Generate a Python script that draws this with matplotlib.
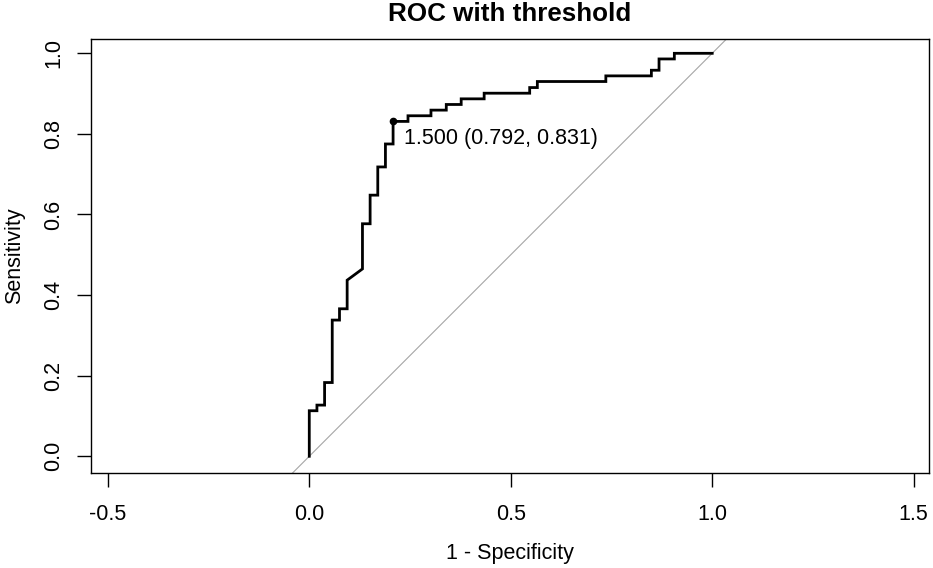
import matplotlib
matplotlib.use("Agg")
import matplotlib.pyplot as plt

plt.rcParams['font.family'] = ['Liberation Sans', 'DejaVu Sans']

# ROC curve points (1 - specificity, sensitivity)
one_minus_spec = [0.000, 0.000, 0.019, 0.019, 0.038, 0.038, 0.057, 0.057, 0.075, 0.075,
                  0.094, 0.094, 0.132, 0.132, 0.151, 0.151, 0.170, 0.170, 0.189, 0.189,
                  0.208, 0.208, 0.245, 0.245, 0.302, 0.302, 0.340, 0.340, 0.377, 0.377,
                  0.434, 0.434, 0.547, 0.547, 0.566, 0.566, 0.736, 0.736, 0.849, 0.849,
                  0.868, 0.868, 0.906, 0.906, 1.000]
sensitivity = [0.000, 0.113, 0.113, 0.127, 0.127, 0.183, 0.183, 0.338, 0.338, 0.366,
               0.366, 0.437, 0.465, 0.577, 0.577, 0.648, 0.648, 0.718, 0.718, 0.775,
               0.775, 0.831, 0.831, 0.845, 0.845, 0.859, 0.859, 0.873, 0.873, 0.887,
               0.887, 0.901, 0.901, 0.915, 0.915, 0.930, 0.930, 0.944, 0.944, 0.958,
               0.958, 0.986, 0.986, 1.000, 1.000]

thr_value = 1.500
thr_specificity = 0.792
thr_sensitivity = 0.831

x_ticks = [-0.5, 0.0, 0.5, 1.0, 1.5]
y_ticks = [0.0, 0.2, 0.4, 0.6, 0.8, 1.0]

W, H = 933, 568
fig = plt.figure(figsize=(W / 100, H / 100), dpi=100)
left, right, top, bottom = 91, 929, 39, 473
ax = fig.add_axes([left / W, 1 - bottom / H, (right - left) / W, (bottom - top) / H])

ax.set_xlim(-0.5417, 1.538)
ax.set_ylim(-0.0415, 1.0355)

# diagonal reference line
ax.axline((0, 0), (1, 1), color='#a6a6a6', lw=0.8, zorder=1)

ax.plot(one_minus_spec, sensitivity, color='black', lw=2.0, solid_joinstyle='miter', zorder=3)

tx = 1 - thr_specificity
ax.plot([tx], [thr_sensitivity], 'o', color='black', markersize=4.5, zorder=4)
ax.annotate(f"{thr_value:.3f} ({thr_specificity:.3f}, {thr_sensitivity:.3f})",
            xy=(tx, thr_sensitivity), xytext=(11, -17), textcoords='offset pixels',
            ha='left', va='center', fontsize=15.5, color='black')

ax.set_xticks(x_ticks)
ax.set_xticklabels([f"{v:.1f}" for v in x_ticks])
ax.set_yticks(y_ticks)
ax.set_yticklabels([f"{v:.1f}" for v in y_ticks], rotation=90, va='center')
ax.tick_params(axis='both', labelsize=15.5, length=10, width=1.0, colors='black')
ax.tick_params(axis='x', pad=12)
ax.tick_params(axis='y', pad=9)

for s in ax.spines.values():
    s.set_linewidth(1.0)
    s.set_color('black')

fig.text(510 / W, 1 - 21 / H, "ROC with threshold", ha='center', va='baseline',
         fontsize=18.7, fontweight='bold')
fig.text(510 / W, 1 - 553 / H, "1 - Specificity", ha='center', va='center', fontsize=15.5)
fig.text(15 / W, 1 - 256 / H, "Sensitivity", ha='center', va='center', rotation=90, fontsize=15.5)

fig.savefig("out.png", dpi=100)
